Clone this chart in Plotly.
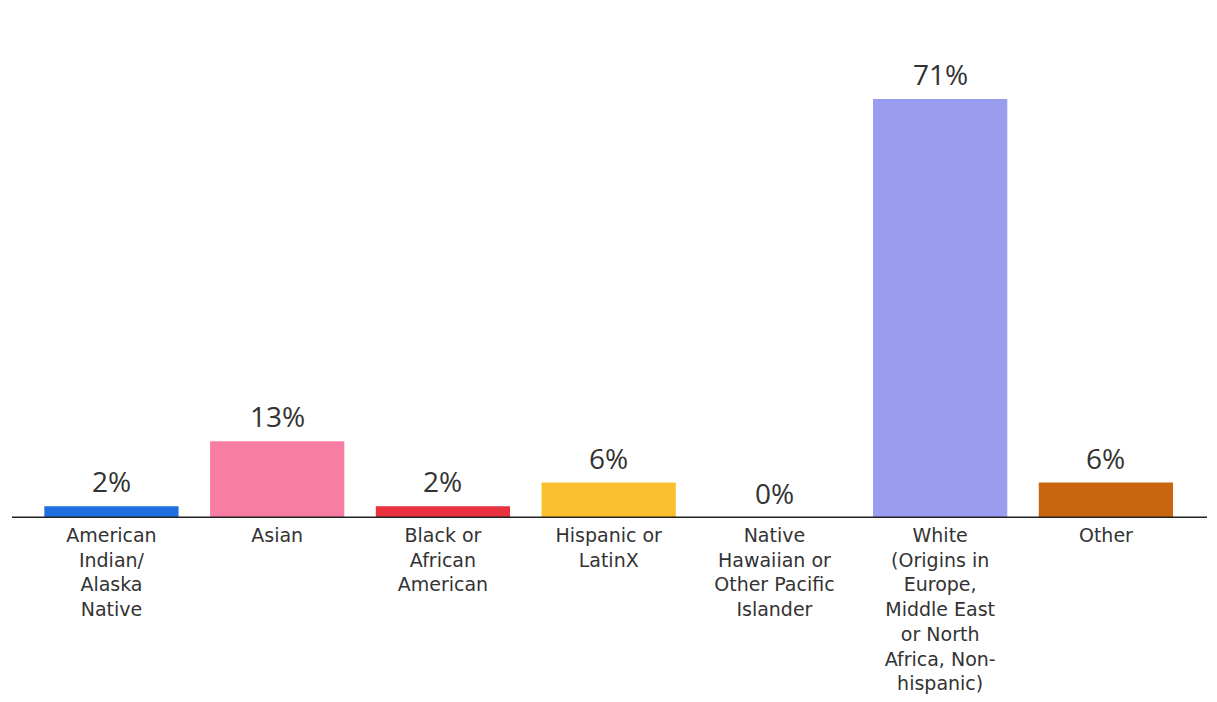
import plotly.graph_objects as go

categories = [
    "American<br>Indian/<br>Alaska<br>Native",
    "Asian",
    "Black or<br>African<br>American",
    "Hispanic or<br>LatinX",
    "Native<br>Hawaiian or<br>Other Pacific<br>Islander",
    "White<br>(Origins in<br>Europe,<br>Middle East<br>or North<br>Africa, Non-<br>hispanic)",
    "Other",
]
values = [2, 13, 2, 6, 0, 71, 6]
labels = ["2%", "13%", "2%", "6%", "0%", "71%", "6%"]
colors = ["#1f6fe0", "#f77da3", "#e8323f", "#fbbf2e", "#c9650f", "#9a9cf0", "#c9650f"]

x = list(range(len(categories)))
FONT = "Open Sans, Noto Sans, sans-serif"
TICKFONT = "DejaVu Sans, Open Sans, sans-serif"

fig = go.Figure(go.Bar(
    x=x, y=values,
    marker=dict(color=colors, line=dict(width=0)),
    hoverinfo="skip",
))

for xi, v, lab in zip(x, values, labels):
    fig.add_annotation(x=xi, y=v, text=lab, showarrow=False, yanchor="bottom",
                       yshift=4, font=dict(family=FONT, size=28, color="#333333"))

fig.update_layout(
    width=1217, height=702,
    margin=dict(l=4, r=18, t=20, b=192, autoexpand=False),
    paper_bgcolor="white", plot_bgcolor="white",
    bargap=0.19, showlegend=False,
    font=dict(family=FONT, color="#333333"),
)
fig.update_xaxes(
    range=[-0.6, 6.61], automargin=False,
    tickmode="array", tickvals=x, ticktext=categories,
    tickfont=dict(family=TICKFONT, size=19, color="#333333"),
    showgrid=False, zeroline=False, showline=False, ticks="",
    ticklabelstandoff=4,
)
fig.update_yaxes(range=[0, 83.05], visible=False, showgrid=False, automargin=False)
fig.add_shape(type="line", xref="paper", yref="y", x0=0, x1=1, y0=0, y1=0,
              line=dict(color="#222222", width=3), layer="above")

fig.write_html("out.html")
